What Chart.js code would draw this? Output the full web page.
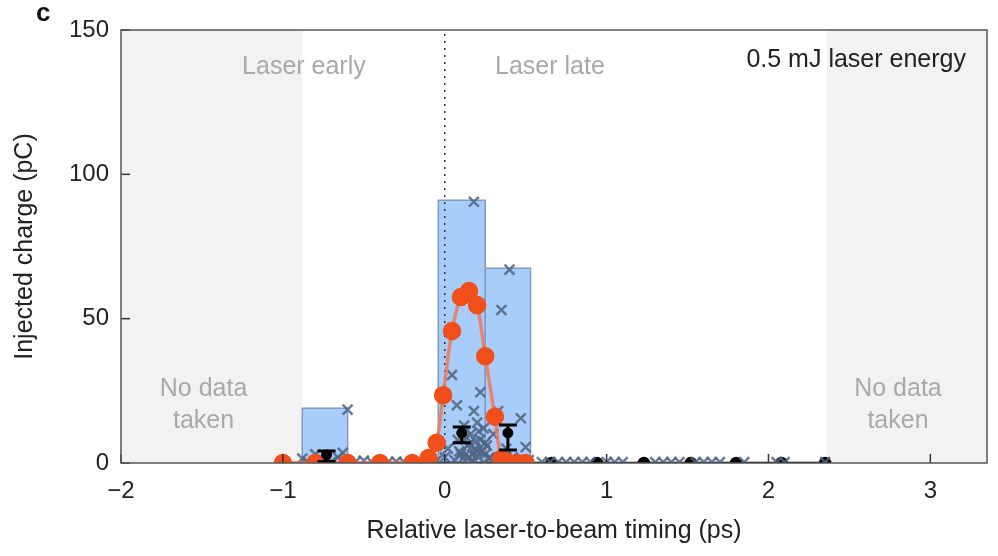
<!DOCTYPE html>
<html>
<head>
<meta charset="utf-8">
<script src="https://cdn.jsdelivr.net/npm/chart.js@4"></script>
<style>
  html, body { margin: 0; padding: 0; background: #fff; }
  #wrap { width: 998px; height: 556px; position: relative; }
</style>
</head>
<body>
<div id="wrap"><canvas id="chart"></canvas></div>
<script>
// 히스토그램 (빈 경계와 높이)
const binLeft = [-0.88, -0.04, 0.25];
const binRight = [-0.60, 0.25, 0.53];
const binHeight = [19, 91, 67.5];

// 개별 샷 (x 표시)
const shotX = [-0.88, -0.85, -0.8, -0.75, -0.7, -0.66, -0.63, -0.6, -0.55, -0.5, -0.45, -0.4, -0.35, -0.3, -0.25, -0.15, -0.1, -0.05,
  0.0, 0.02, 0.045, 0.075, 0.08, 0.1, 0.12, 0.14, 0.15, 0.16, 0.18, 0.18, 0.2, 0.2, 0.22, 0.22, 0.24, 0.25, 0.26, 0.28, 0.3, 0.33, 0.35, 0.38, 0.4, 0.42, 0.47, 0.5, 0.52,
  0.06, 0.09, 0.11, 0.13, 0.15, 0.17, 0.19, 0.21, 0.23, 0.25, 0.27, 0.13, 0.17, 0.21, 0.16, 0.19,
  0.6, 0.65, 0.7, 0.75, 0.8, 0.85, 0.9, 1.0, 1.05, 1.1, 1.3, 1.35, 1.4, 1.45, 1.55, 1.6, 1.65, 1.7, 1.85, 2.05, 2.1, 2.35];
const shotY = [1.5, 0.5, 3, 1, 0.5, 2, 3.5, 18.5, 0.5, 0.8, 0.3, 0.5, 0.3, 0.5, 0.2, 0.4, 0.5, 0.8,
  2, 5, 30.5, 20, 8, 3, 13, 6, 2, 10, 18, 90.5, 14, 4, 24.5, 8, 12, 3, 6, 2, 10, 18, 53, 5, 67, 2, 15.5, 5.5, 1,
  1, 4, 1.5, 3, 6.5, 1, 5, 2, 4, 7, 1.5, 9, 3, 11, 0.5, 7.5,
  0.3, 0.3, 0.3, 0.3, 0.3, 0.3, 0.3, 0.3, 0.3, 0.3, 0.3, 0.3, 0.3, 0.3, 0.3, 0.3, 0.3, 0.3, 0.3, 0.3, 0.3, 0.3];

// 시뮬레이션 곡선 (주황)
const simX = [-1.0, -0.8, -0.6, -0.4, -0.2, -0.1, -0.05, -0.01, 0.045, 0.1, 0.15, 0.2, 0.25, 0.31, 0.35, 0.4, 0.45, 0.5];
const simY = [0, 0, 0, 0, 0, 1.7, 7, 23.5, 45.7, 57.5, 59.6, 54.7, 37, 16, 1.5, 0, 0, 0];

// 평균값 + 오차 막대
const errX = [-0.73, 0.105, 0.39];
const errY = [2.8, 10.4, 10.4];
const errLo = [0.5, 7, 4.5];
const errHi = [4.2, 12.5, 13.2];

// 0 근처의 검은 점
const zeroX = [-1.0, 0.66, 0.94, 1.23, 1.52, 1.8, 2.08, 2.35];
const zeroY = [0, 0, 0, 0, 0, 0, 0, 0];

const xTicks = [-2, -1, 0, 1, 2, 3];
const yTicks = [0, 50, 100, 150];

const FONT = '"Liberation Sans", Arial, Helvetica, sans-serif';

const pts = (xs, ys) => xs.map((x, i) => ({ x: x, y: ys[i] }));

// 막대는 닫힌 사각형 선으로 그림
const barSets = binLeft.map((l, i) => ({
  type: 'line',
  data: [{ x: l, y: 0 }, { x: l, y: binHeight[i] }, { x: binRight[i], y: binHeight[i] }, { x: binRight[i], y: 0 }],
  borderColor: '#7d9ac4',
  borderWidth: 1.5,
  backgroundColor: 'rgba(160,200,250,0.9)',
  fill: 'origin',
  pointRadius: 0,
  tension: 0,
  order: 10
}));

// 배경 영역, 텍스트, 틱, 오차막대
const decor = {
  id: 'decor',
  beforeDatasetsDraw(chart) {
    const { ctx, chartArea: a, scales: { x, y } } = chart;
    ctx.save();
    ctx.fillStyle = '#f2f2f2';
    ctx.fillRect(a.left, a.top, x.getPixelForValue(-0.88) - a.left, a.bottom - a.top);
    ctx.fillRect(x.getPixelForValue(2.36), a.top, a.right - x.getPixelForValue(2.36), a.bottom - a.top);

    ctx.font = '25px ' + FONT;
    ctx.fillStyle = '#a9a9a9';
    ctx.textAlign = 'center';
    ctx.textBaseline = 'middle';
    ctx.fillText('Laser early', x.getPixelForValue(-0.87), y.getPixelForValue(137));
    ctx.fillText('Laser late', x.getPixelForValue(0.65), y.getPixelForValue(137));
    ctx.fillText('No data', x.getPixelForValue(-1.49), y.getPixelForValue(25.5));
    ctx.fillText('taken', x.getPixelForValue(-1.49), y.getPixelForValue(14.5));
    ctx.fillText('No data', x.getPixelForValue(2.8), y.getPixelForValue(25.5));
    ctx.fillText('taken', x.getPixelForValue(2.8), y.getPixelForValue(14.5));
    ctx.fillStyle = '#222';
    ctx.font = '25px ' + FONT;
    ctx.textAlign = 'right';
    ctx.fillText('0.5 mJ laser energy', x.getPixelForValue(3.22), y.getPixelForValue(139.5));
    ctx.restore();
  },
  afterDatasetsDraw(chart) {
    const { ctx, chartArea: a, scales: { x, y } } = chart;
    ctx.save();
    // 오차 막대
    ctx.strokeStyle = '#000';
    ctx.lineWidth = 3;
    errX.forEach((v, i) => {
      const px = x.getPixelForValue(v);
      const lo = y.getPixelForValue(errLo[i]);
      const hi = y.getPixelForValue(errHi[i]);
      ctx.beginPath();
      ctx.moveTo(px, lo); ctx.lineTo(px, hi);
      ctx.moveTo(px - 9, lo); ctx.lineTo(px + 9, lo);
      ctx.moveTo(px - 9, hi); ctx.lineTo(px + 9, hi);
      ctx.stroke();
    });
    // 틱 (안쪽)
    ctx.strokeStyle = '#333';
    ctx.lineWidth = 1.5;
    xTicks.forEach(v => {
      const px = x.getPixelForValue(v);
      ctx.beginPath(); ctx.moveTo(px, a.bottom); ctx.lineTo(px, a.bottom - 9); ctx.stroke();
    });
    yTicks.forEach(v => {
      const py = y.getPixelForValue(v);
      ctx.beginPath(); ctx.moveTo(a.left, py); ctx.lineTo(a.left + 9, py); ctx.stroke();
    });
    // 테두리
    ctx.strokeStyle = '#555';
    ctx.lineWidth = 1.5;
    ctx.strokeRect(a.left, a.top, a.right - a.left, a.bottom - a.top);
    // 패널 라벨
    ctx.fillStyle = '#111';
    ctx.font = 'bold 26px ' + FONT;
    ctx.textAlign = 'left';
    ctx.textBaseline = 'middle';
    ctx.fillText('c', 36, 14);
    ctx.restore();
  }
};

function renderChart() {
  const ctx = document.getElementById('chart').getContext('2d');
  new Chart(ctx, {
    type: 'scatter',
    data: {
      datasets: barSets.concat([
        {
          type: 'line',
          data: [{ x: 0, y: 0 }, { x: 0, y: 150 }],
          borderColor: '#333',
          borderWidth: 1.5,
          borderDash: [2, 5],
          pointRadius: 0,
          order: 9
        },
        {
          type: 'line',
          data: pts(zeroX, zeroY),
          borderColor: '#000',
          backgroundColor: '#000',
          borderWidth: 2.5,
          pointStyle: 'circle',
          pointRadius: 5,
          order: 6
        },
        {
          data: pts(shotX, shotY),
          pointStyle: 'crossRot',
          pointRadius: 7,
          borderColor: 'rgba(80,100,130,0.85)',
          pointBorderWidth: 2.5,
          order: 5
        },
        {
          type: 'line',
          data: pts(simX, simY),
          borderColor: 'rgba(240,120,90,0.85)',
          borderWidth: 3.5,
          backgroundColor: '#f04e1a',
          pointBorderColor: '#f04e1a',
          pointRadius: 7.5,
          tension: 0.3,
          order: 4
        },
        {
          data: pts(errX, errY),
          pointStyle: 'circle',
          pointRadius: 5,
          backgroundColor: '#000',
          borderColor: '#000',
          order: 3
        }
      ])
    },
    options: {
      responsive: false,
      animation: false,
      layout: { padding: { top: 30, right: 10, left: 0, bottom: 0 } },
      plugins: { legend: { display: false }, tooltip: { enabled: false } },
      scales: {
        x: {
          type: 'linear',
          min: -2,
          max: 3.35,
          afterBuildTicks: s => { s.ticks = xTicks.map(v => ({ value: v })); },
          afterFit: s => { s.height = 93; },
          grid: { display: false, drawTicks: false },
          border: { display: false },
          ticks: { color: '#222', font: { family: FONT, size: 24 }, padding: 14, callback: v => (v < 0 ? '\u2212' + Math.abs(v) : v) },
          title: { display: true, text: 'Relative laser-to-beam timing (ps)', color: '#222', font: { family: FONT, size: 25 }, padding: { top: 6, bottom: 10 } }
        },
        y: {
          min: 0,
          max: 150,
          afterBuildTicks: s => { s.ticks = yTicks.map(v => ({ value: v })); },
          afterFit: s => { s.width = 121; },
          grid: { display: false, drawTicks: false },
          border: { display: false },
          ticks: { color: '#222', font: { family: FONT, size: 24 }, padding: 12 },
          title: { display: true, text: 'Injected charge (pC)', color: '#222', font: { family: FONT, size: 25 }, padding: { top: 10, bottom: 4 } }
        }
      }
    },
    plugins: [decor]
  });
}

const cv = document.getElementById('chart');
cv.width = 998; cv.height = 556;
cv.style.width = '998px'; cv.style.height = '556px';
window.onload = renderChart;
</script>
</body>
</html>
